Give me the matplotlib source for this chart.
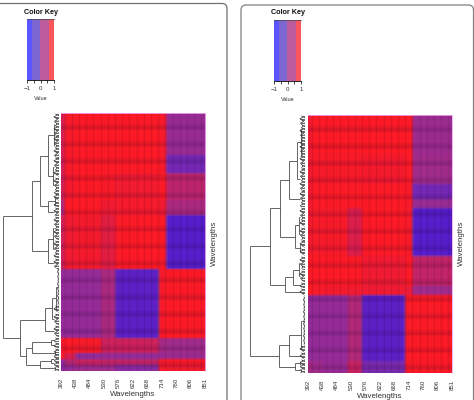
import numpy as np
import matplotlib
matplotlib.use("Agg")
import matplotlib.pyplot as plt
from matplotlib.colors import LinearSegmentedColormap, ListedColormap
from matplotlib.patches import FancyBboxPatch

plt.rcParams['font.family'] = ['Liberation Sans', 'DejaVu Sans']

W, H = 474, 400

wavelengths = [392, 438, 484, 530, 576, 622, 668, 714, 760, 806, 851]
# number of quarter-step cells in each column group
col_cells = [1, 3, 7, 4, 12, 2, 11]

# row block heights and the value of each column group
left_rows = [42, 17, 28, 16, 52, 69, 16, 7, 6, 5]
left_values = [
    [0.45, 0.95, 1.0, 1.0, 1.0, 0.95, -0.1],
    [0.40, 0.95, 1.0, 1.0, 1.0, 0.95, -0.55],
    [0.40, 0.90, 1.0, 0.97, 0.88, 1.0, 0.25],
    [0.10, 1.0, 1.0, 0.85, 0.92, 0.85, 0.1],
    [0.40, 0.85, 0.9, 0.65, 1.0, 1.0, -0.8],
    [-0.15, -0.15, -0.15, 0.1, -0.75, 0.95, 1.0],
    [0.90, 1.0, 0.95, 0.4, 0.4, 0.05, 0.0],
    [0.95, 0.5, -0.2, -0.1, -0.15, -0.1, -0.05],
    [-0.2, 0.2, 0.35, 0.3, 0.3, 0.9, 0.95],
    [-0.3, -0.1, 0.0, 0.0, -0.3, 0.95, 0.9],
]
right_rows = [40, 30, 15, 8, 47, 30, 11, 64, 13]
right_values = [
    [0.80, 1.0, 1.0, 1.0, 1.0, 1.0, -0.05],
    [0.80, 0.95, 0.95, 0.95, 0.9, 1.0, 0.0],
    [0.80, 1.0, 1.0, 1.0, 1.0, 0.95, -0.55],
    [0.80, 1.0, 1.0, 1.0, 1.0, 0.95, -0.1],
    [0.85, 0.95, 0.95, 0.55, 1.0, 0.95, -0.8],
    [0.95, 1.0, 1.0, 1.0, 0.85, 1.0, 0.3],
    [1.0, 0.95, 0.9, 0.85, 0.85, 0.75, 0.0],
    [-0.15, -0.15, -0.15, 0.15, -0.75, 1.0, 1.0],
    [0.1, 0.0, -0.1, 0.35, -0.5, 0.95, 1.0],
]

# dendrograms: (height, upper child, lower child), a plain number is a tuft of rows
left_tree = (56,
    (27,
        (19,
            (11, (5, 22, 22), (6, 20, 16)),
            (11, (4, 8, 6), 9)),
        (11, (6, 24, 18), 10)),
    (39,
        (14, (7, (3, 37, 8), 12), 12),
        (33,
            (27, (8, 5, 6), (4, 5, 4)),
            (19, (8, 4, 4), (4, 3, 3)))))
right_tree = (55,
    (35,
        (25,
            (16, (8, (4, 28, 25), 22), 17),
            (10, (6, 20, 13), (5, 8, 8))),
        (20, (12, (6, 14, 12), 6), 8)),
    (26,
        (16, (4, 49, 7), 7),
        (10, (5, 4, 4), (4, 3, 3))))
tuft_depths = [3.5, 2, 5, 3, 1.5, 4.5, 3, 2]

key_edges = [-1, -0.63, -0.04, 0.63, 1]
key_ticks = [-1, -0.5, 0, 0.5, 1]
key_colors = ['#5a55ff', '#7c66cf', '#bd5c9c', '#f8565c']

heat_cmap = LinearSegmentedColormap.from_list(
    'heat', ['#3f16dc', '#7a2ab0', '#a02c8c', '#d81f50', '#fb1a26'])


def axes_px(fig, x0, y0, x1, y1):
    return fig.add_axes([x0 / W, 1 - y1 / H, (x1 - x0) / W, (y1 - y0) / H])


def draw_node(node, top, segs):
    # returns y of the node, its height and the row below its span
    if not isinstance(node, tuple):
        # long chains of near-identical rows hug the heatmap
        scale = 0.3 if node >= 35 else 1.0
        ys = np.arange(top + 0.7, top + node, 1.5)
        ds = [tuft_depths[i % len(tuft_depths)] * scale for i in range(len(ys))]
        segs.append((ds, ys))
        for d, y in zip(ds, ys):
            segs.append(([0, d], [y, y]))
        return top + node / 2, 5.0 * scale, top + node
    y1, h1, next_top = draw_node(node[1], top, segs)
    y2, h2, next_top = draw_node(node[2], next_top, segs)
    h = node[0]
    segs.append(([h1, h], [y1, y1]))
    segs.append(([h2, h], [y2, y2]))
    segs.append(([h, h], [y1, y2]))
    return (y1 + y2) / 2, h, next_top


def draw_panel(fig, box, rows, values, tree, tree_right, key_box, label_y, xlabel_xy, ylabel_xy):
    x0, y0, x1, y1 = box

    # heatmap, sampled every few rows so block borders come out soft
    ax = axes_px(fig, x0, y0, x1, y1)
    cells = np.repeat(np.repeat(np.array(values), rows, axis=0), col_cells, axis=1)
    n_rows = cells.shape[0]
    ax.imshow(cells[1::3], cmap=heat_cmap, vmin=-1, vmax=1, aspect='auto',
              interpolation='bilinear', extent=(0, 10, n_rows, 0))
    ax.set_xlim(0, 10)
    ax.set_ylim(n_rows, 0)
    # cell stripes and row shading
    ax.vlines(np.arange(0.25, 10, 0.5), 0, n_rows, color='k', alpha=0.09, lw=1.0)
    ax.hlines(np.arange(14, n_rows, 17), 0, 10, color='#200030', alpha=0.07, lw=4.5)
    ax.hlines(np.arange(14, n_rows, 17), 0, 10, color='#200030', alpha=0.07, lw=2.0)
    for s in ['left', 'bottom']:
        ax.spines[s].set_visible(False)
    for s in ['top', 'right']:
        ax.spines[s].set_color('#f0a8f0')
        ax.spines[s].set_linewidth(0.6)
    ax.set_xticks(range(len(wavelengths)))
    ax.set_xticklabels(wavelengths, rotation=90, fontsize=4.4, color='#333333', va='center')
    ax.tick_params(axis='x', length=0, pad=0)
    for t in ax.get_xticklabels():
        t.set_y(-(label_y - y1) / (y1 - y0))
    ax.set_yticks([])

    # dendrogram
    dax = axes_px(fig, tree_right - 58, y0, tree_right, y1)
    segs = []
    draw_node(tree, 0, segs)
    for xs, ys in segs:
        dax.plot(xs, ys, color='#3a3a3a', lw=0.55, solid_capstyle='butt')
    dax.set_xlim(58, 0)
    dax.set_ylim(n_rows, 0)
    dax.axis('off')

    # colour key
    kx0, ky0, kx1, ky1 = key_box
    kax = axes_px(fig, kx0, ky0, kx1, ky1)
    kax.pcolormesh(key_edges, [0, 1], [list(range(len(key_colors)))],
                   cmap=ListedColormap(key_colors), rasterized=True)
    kax.set_xlim(-1, 1)
    kax.set_yticks([])
    kax.set_xticks(key_ticks)
    kax.set_xticklabels(['\u22121', '', '0', '', '1'], fontsize=4.4, color='#333333')
    kax.tick_params(axis='x', length=2.5, width=0.5, pad=1.5)
    for s in ['left', 'right']:
        kax.spines[s].set_visible(False)
    kax.spines['top'].set_linewidth(0.5)
    kax.spines['top'].set_color('#444444')
    kax.spines['bottom'].set_linewidth(0.6)
    kmid = (kx0 + kx1) / 2
    fig.text(kmid / W + 0.001, 1 - (ky0 - 7) / H, 'Color Key', fontsize=5.2, fontweight='bold',
             ha='center', va='center', color='#111111')
    fig.text(kmid / W, 1 - (ky1 + 18.5) / H, 'Value', fontsize=4.0, ha='center', va='center',
             color='#333333')

    fig.text(xlabel_xy[0] / W, 1 - xlabel_xy[1] / H, 'Wavelengths', fontsize=5.7,
             ha='center', va='center', color='#333333')
    fig.text(ylabel_xy[0] / W, 1 - ylabel_xy[1] / H, 'Wavelengths', fontsize=5.7, rotation=90,
             ha='center', va='center', color='#333333')


fig = plt.figure(figsize=(W / 100, H / 100), dpi=100)

# rounded panel outlines running off the page
bg = fig.add_axes([0, 0, 1, 1])
bg.set_xlim(0, W)
bg.set_ylim(H, 0)
bg.axis('off')
bg.add_patch(FancyBboxPatch((-30, 3.5), 257, 440, boxstyle='round,pad=0,rounding_size=5',
                            fc='white', ec='#707070', lw=0.9))
bg.add_patch(FancyBboxPatch((241, 5), 232.5, 440, boxstyle='round,pad=0,rounding_size=5',
                            fc='white', ec='#808080', lw=0.9))

draw_panel(fig, (61, 113, 205, 371), left_rows, left_values, left_tree, 59,
           (27, 19, 54, 80), 383, (133, 394), (214, 243))
draw_panel(fig, (308, 115, 452, 373), right_rows, right_values, right_tree, 305,
           (274, 20, 301, 81), 385, (380, 396), (461, 243))

fig.savefig('out.png', dpi=100)
